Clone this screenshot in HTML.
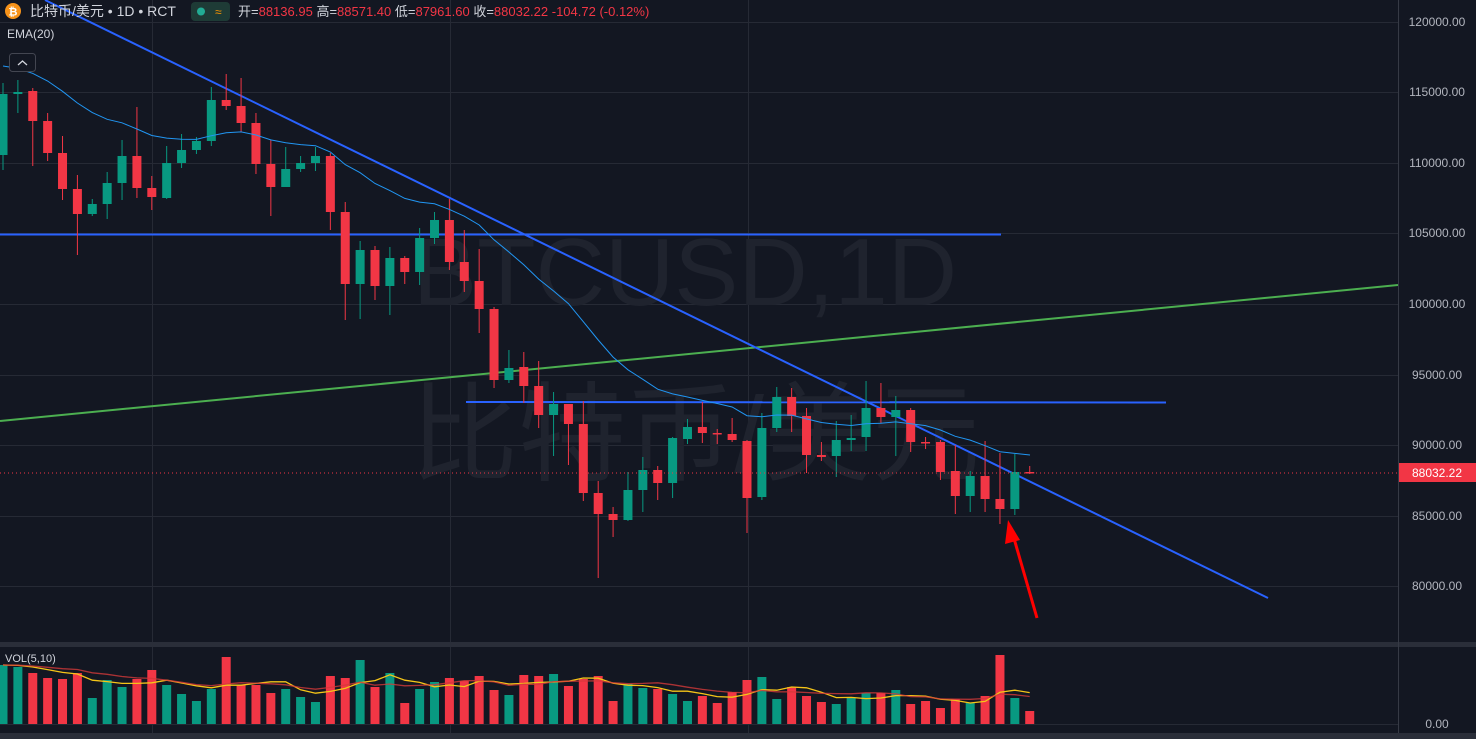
<!DOCTYPE html>
<html><head><meta charset="utf-8">
<style>
html,body{margin:0;padding:0;background:#131722;width:1476px;height:739px;overflow:hidden}
svg{display:block}
text{font-family:"Liberation Sans","Noto Sans CJK SC",sans-serif}
</style></head><body>
<svg id="s" width="1476" height="739" xmlns="http://www.w3.org/2000/svg">
<rect width="1476" height="739" fill="#131722"/>
<g id="grid" stroke="#262a35" stroke-width="1"></g>
<text x="685" y="305" font-size="96" fill="#1f232e" text-anchor="middle">BTCUSD,1D</text>
<text x="695" y="472" font-size="108" fill="#1f232e" text-anchor="middle" font-family="Noto Sans CJK SC,sans-serif">比特币/美元</text>
<line x1="0" y1="421" x2="1398" y2="285" stroke="#4caf50" stroke-width="2"/>
<line x1="0" y1="234.5" x2="1001" y2="234.5" stroke="#2962ff" stroke-width="2"/>
<line x1="466" y1="402" x2="1166" y2="402.5" stroke="#2962ff" stroke-width="2"/>
<line x1="45" y1="0" x2="1268" y2="598" stroke="#2962ff" stroke-width="2"/>
<g id="c"></g>
<polyline id="ema" fill="none" stroke="#2196f3" stroke-width="1"/>
<line x1="0" y1="473" x2="1398" y2="473" stroke="#f23645" stroke-width="1" stroke-dasharray="1,3"/>
<g id="v"></g>
<polyline id="ma5" fill="none" stroke="#f5c518" stroke-width="1.3"/>
<polyline id="ma10" fill="none" stroke="#d33a3a" stroke-width="1.3" opacity="0.8"/>
<line x1="1037" y1="618" x2="1013" y2="535" stroke="#ff0000" stroke-width="3"/>
<polygon points="1008,520 1005,544 1020,540" fill="#ff0000"/>
<rect x="0" y="642" width="1476" height="5" fill="#2a2e39"/>
<rect x="0" y="733" width="1476" height="6" fill="#2a2e39"/>
<line x1="1398.5" y1="0" x2="1398.5" y2="733" stroke="#363a45"/>
<g id="ax" font-size="12" fill="#b2b5be" text-anchor="middle"></g>
<rect x="1399" y="463" width="77" height="19" fill="#f23645"/>
<text x="1437" y="477" font-size="12" fill="#fff" text-anchor="middle">88032.22</text>
<text x="1437" y="728" font-size="12" fill="#b2b5be" text-anchor="middle">0.00</text>
<circle cx="13" cy="11" r="8" fill="#f7931a"/>
<text x="13" y="15.5" font-size="11" font-weight="bold" fill="#fff" text-anchor="middle">₿</text>
<text x="30" y="16" font-size="14" fill="#d1d4dc">比特币/美元 • 1D • RCT</text>
<rect x="191" y="2" width="39" height="19" rx="4" fill="#1e3b36"/>
<circle cx="201" cy="11.5" r="4" fill="#22ab94"/>
<text x="215" y="16" font-size="12" fill="#ff9800">≈</text>
<text x="238" y="16" font-size="13" fill="#f23645"><tspan fill="#d1d4dc">开=</tspan>88136.95 <tspan fill="#d1d4dc">高=</tspan>88571.40 <tspan fill="#d1d4dc">低=</tspan>87961.60 <tspan fill="#d1d4dc">收=</tspan>88032.22  -104.72 (-0.12%)</text>
<text x="7" y="38" font-size="12" fill="#d1d4dc">EMA(20)</text>
<rect x="9.5" y="53.5" width="26" height="18" rx="3" fill="#131722" stroke="#434651"/>
<polyline points="18,65 22.5,61 27,65" fill="none" stroke="#d1d4dc" stroke-width="1.3"/>
<text x="5" y="662" font-size="11" fill="#d1d4dc">VOL(5,10)</text>
</svg>
<script>
var NS="http://www.w3.org/2000/svg";
function el(p,t,a){var e=document.createElementNS(NS,t);for(var k in a)e.setAttribute(k,a[k]);document.getElementById(p).appendChild(e);return e;}
var G=[22,92,163,233,304,375,445,516,586];
G.forEach(function(y){el("grid","line",{x1:0,x2:1398,y1:y+.5,y2:y+.5});});
[152,450,748].forEach(function(x){el("grid","line",{x1:x+.5,x2:x+.5,y1:0,y2:733});});
el("grid","line",{x1:0,x2:1398,y1:724.5,y2:724.5});
var L=["120000.00","115000.00","110000.00","105000.00","100000.00","95000.00","90000.00","85000.00","80000.00"];
G.forEach(function(y,i){var t=el("ax","text",{x:1437,y:y+4});t.textContent=L[i];});
// [open,close,high,low] in pixel y
var C=[[155,94,83,170],[94,92,80,113],[91,121,88,166],[121,153,113,161],[153,189,136,200],[189,214,175,255],[214,204,199,216],[204,183,172,219],[183,156,140,200],[156,188,107,198],[188,197,176,210],[198,163,146,199],[163,150,134,168],[150,141,137,154],[141,100,87,146],[100,106,74,110],[106,123,78,132],[123,164,113,174],[164,187,140,216],[187,169,147,187],[169,163,156,172],[163,156,147,171],[156,212,153,230],[212,284,202,320],[284,250,241,319],[250,286,246,300],[286,258,247,315],[258,272,256,284],[272,238,228,285],[238,220,212,244],[220,262,199,270],[262,281,230,292],[281,309,249,333],[309,380,307,388],[380,368,350,383],[367,386,352,403],[386,415,361,428],[415,404,392,456],[404,424,404,465],[424,493,401,501],[493,514,481,578],[514,520,507,537],[520,490,472,521],[490,470,457,512],[470,483,466,500],[483,438,437,498],[439,427,419,444],[427,433,402,443],[433,433,429,444],[434,440,418,442],[441,498,440,533],[497,428,413,500],[428,397,387,432],[397,416,388,432],[416,455,408,473],[455,457,442,461],[456,440,421,477],[440,438,415,451],[437,408,381,451],[408,417,383,423],[417,410,396,456],[410,442,408,452],[442,442,437,449],[442,472,440,480],[471,496,445,514],[496,476,471,512],[476,499,441,512],[499,509,453,524],[509,472,454,515],[472,473,466,474]];
var V=[665,667,673,678,679,673,698,680,687,679,670,685,694,701,689,657,685,685,693,689,697,702,676,678,660,687,673,703,689,682,678,681,676,690,695,675,676,674,686,679,676,701,684,688,689,694,701,696,703,692,680,677,699,687,696,702,704,698,693,693,690,704,701,708,699,703,696,655,698,711];
var up="#089981",dn="#f23645",ema=[],e=63,k=2/21,p5=[],p10=[];
C.forEach(function(c,i){
 var x=3+i*14.88,g=c[1]<c[0]||(c[1]==c[0]&&i==48?false:c[1]<c[0]),col=g?up:dn;
 if(i==48||i==62)col=dn; if(i==69)col=dn;
 el("c","line",{x1:x,x2:x,y1:c[2],y2:c[3],stroke:col,"stroke-width":1});
 var t=Math.min(c[0],c[1]),h=Math.max(Math.abs(c[1]-c[0]),1.5);
 el("c","rect",{x:x-4.5,y:t,width:9,height:h,fill:col});
 if(i<68){e=e+k*(c[1]-e);ema.push(x.toFixed(1)+","+e.toFixed(1));}
 el("v","rect",{x:x-4.5,y:V[i],width:9,height:724-V[i],fill:col});
 var h5=0,h10=0;for(var j=0;j<10;j++){var q=V[Math.max(0,i-j)];if(j<5)h5+=q;h10+=q;}
 p5.push(x.toFixed(1)+","+(h5/5).toFixed(1));p10.push(x.toFixed(1)+","+(h10/10).toFixed(1));
});
ema.push("1030,455");
document.getElementById("ema").setAttribute("points",ema.join(" "));
document.getElementById("ma5").setAttribute("points",p5.join(" "));
document.getElementById("ma10").setAttribute("points",p10.join(" "));
</script>
</body></html>
